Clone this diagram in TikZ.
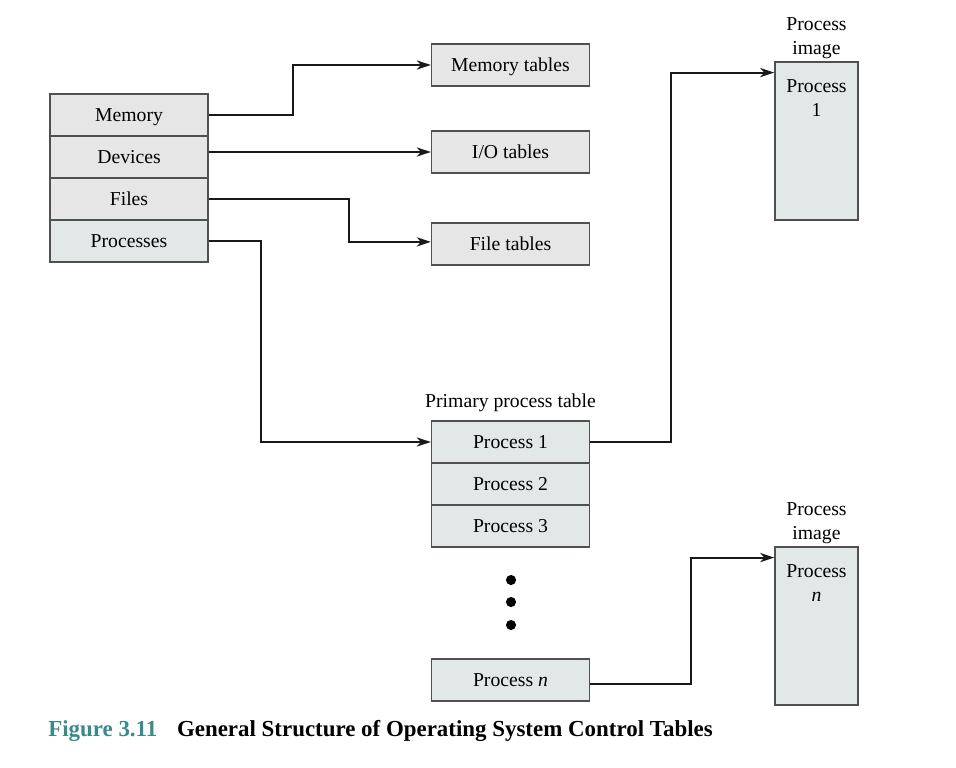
\documentclass[tikz,border=0pt]{standalone}
\usepackage{fontspec}
\setmainfont{Liberation Serif}
\usepackage{xcolor}
\usetikzlibrary{arrows.meta}

\definecolor{tabgray}{HTML}{E6E6E6}
\definecolor{tabblue}{HTML}{E2E8E8}
\definecolor{figteal}{HTML}{3A8A8A}
\definecolor{edgegray}{HTML}{505050}

\begin{document}
\begin{tikzpicture}[
    x=0.025cm, y=-0.025cm,
    font=\fontsize{14}{17}\selectfont,
    row/.style = {rectangle, draw=edgegray, line width=0.9pt, fill=tabgray,
                 minimum width=3.95cm, minimum height=1.05cm, inner sep=0pt,
                 text height=1.0em, text depth=0.05em},
    prow/.style = {row, fill=tabblue},
    imgbox/.style = {rectangle, draw=edgegray, line width=0.9pt, fill=tabblue,
                 minimum width=2.08cm, minimum height=3.95cm, inner sep=0pt},
    lbl/.style = {align=center, inner sep=1pt},
    arr/.style = {-{Stealth[length=10pt,width=6.5pt,inset=3pt]}, line width=1.4pt, color=black!90}
]
\useasboundingbox (0,0) rectangle (956,768);

% Control tables
\node[row] (mem) at (129,115) {Memory};
\node[row] (dev) at (129,157) {Devices};
\node[row] (fil) at (129,199) {Files};
\node[prow] (prc) at (129,241) {Processes};

% Tables
\node[row] (memtab) at (510.5,65) {Memory tables};
\node[row] (iotab) at (510.5,152) {I/O tables};
\node[row] (filtab) at (510.5,244) {File tables};

% Primary process table
\node[prow] (p1) at (510.5,442) {Process 1};
\node[prow] (p2) at (510.5,484) {Process 2};
\node[prow] (p3) at (510.5,526) {Process 3};
\node[prow] (pn) at (510.5,680) {Process \textit{n}};
\node[lbl, above=5pt] (ptlbl) at (p1.north) {Primary process table};

% Dots
\fill (511,580) circle (3.6pt);
\fill (511,602) circle (3.6pt);
\fill (511,625) circle (3.6pt);

% Process images
\node[imgbox] (img1) at (816.5,141) {};
\node[lbl, below=12pt] (img1txt) at (img1.north) {Process\\1};
\node[lbl, above=1pt] (img1lbl) at (img1.north) {Process\\image};

\node[imgbox] (imgn) at (816.5,626) {};
\node[lbl, below=12pt] (imgntxt) at (imgn.north) {Process\\\textit{n}};
\node[lbl, above=1pt] (imgnlbl) at (imgn.north) {Process\\image};

% Connectors
\draw[arr] (mem.east) -- ++(84,0) |- (memtab.west);
\draw[arr] (dev.east |- iotab.west) -- (iotab.west);
\draw[arr] (fil.east) -- ++(140,0) |- ([yshift=1.5pt]filtab.west);
\draw[arr] (prc.east) -- ++(52,0) |- (p1.west);
\draw[arr] (p1.east) -- ++(81,0) |- ([yshift=-8pt]img1.north west);
\draw[arr] ([yshift=-3pt]pn.east) -- ++(101,0) |- ([yshift=-8pt]imgn.north west);

% Caption
\node[anchor=west, font=\fontsize{16.3}{19}\selectfont\bfseries, inner sep=0pt] (cap) at (48,731)
    {\textcolor{figteal}{Figure 3.11}\hspace{14pt}General Structure of Operating System Control Tables};

\end{tikzpicture}
\end{document}
